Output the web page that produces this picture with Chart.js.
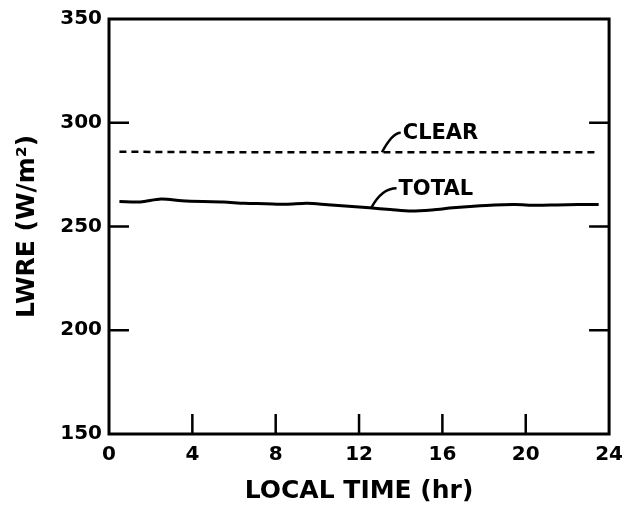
<!DOCTYPE html>
<html>
<head>
<meta charset="utf-8">
<script src="https://cdn.jsdelivr.net/npm/chart.js@4"></script>
<style>
  body { margin: 0; background: #fff; }
</style>
</head>
<body>
<canvas id="lwreChart" width="632" height="509"></canvas>
<script>
// local hour of each sample
const hours = [0.5, 1.5, 2.5, 3.5, 4.5, 5.5, 6.5, 7.5, 8.5, 9.5, 10.5, 11.5,
               12.5, 13.5, 14.5, 15.5, 16.5, 17.5, 18.5, 19.5, 20.5, 21.5, 22.5, 23.5];

// LWRE, W/m^2
const totalValues = [262.0, 261.8, 263.2, 262.4, 262.0, 261.8, 261.2, 261.0, 260.7, 261.2, 260.5, 259.8,
                     259.0, 258.2, 257.5, 258.0, 259.0, 259.8, 260.4, 260.6, 260.2, 260.4, 260.6, 260.6];
const clearValues = [286.0, 286.0, 285.9, 285.9, 285.8, 285.8, 285.8, 285.8, 285.8, 285.8, 285.8, 285.8,
                     285.8, 285.8, 285.8, 285.8, 285.8, 285.8, 285.8, 285.8, 285.8, 285.8, 285.8, 285.8];

const xTickValues = [0, 4, 8, 12, 16, 20, 24];
const yTickValues = [150, 200, 250, 300, 350];

const toPoints = vals => vals.map((v, i) => ({ x: hours[i], y: v }));

/*
 frame, inward tick marks and the two line callouts
*/
const callouts = [
    { text: "CLEAR", from: [13.1, 285.8], to: [13.6, 295.2], end: 14.0 },
    { text: "TOTAL", from: [12.6, 259.2], to: [13.1, 268.4], end: 13.8 }
];

const framePlugin = {
    id: "frame",
    afterDatasetsDraw(chart) {
        const { ctx, chartArea: a, scales: { x, y } } = chart;
        ctx.save();
        ctx.strokeStyle = "#000";
        ctx.lineWidth = 3;
        ctx.strokeRect(a.left, a.top, a.right - a.left, a.bottom - a.top);

        ctx.lineWidth = 2.5;
        ctx.beginPath();
        xTickValues.slice(1, -1).forEach(v => {
            const px = x.getPixelForValue(v);
            ctx.moveTo(px, a.bottom);
            ctx.lineTo(px, a.bottom - 20);
        });
        yTickValues.slice(1, -1).forEach(v => {
            const py = y.getPixelForValue(v);
            ctx.moveTo(a.left, py);
            ctx.lineTo(a.left + 20, py);
            ctx.moveTo(a.right, py);
            ctx.lineTo(a.right - 20, py);
        });
        ctx.stroke();

        ctx.lineWidth = 2.5;
        ctx.font = "bold 21px 'DejaVu Sans'";
        ctx.fillStyle = "#000";
        ctx.textBaseline = "middle";
        callouts.forEach(c => {
            const x0 = x.getPixelForValue(c.from[0]);
            const y0 = y.getPixelForValue(c.from[1]);
            const x1 = x.getPixelForValue(c.to[0]);
            const y1 = y.getPixelForValue(c.to[1]);
            const x2 = x.getPixelForValue(c.end);
            ctx.beginPath();
            ctx.moveTo(x0, y0);
            ctx.quadraticCurveTo(x1, y1, x2, y1);
            ctx.stroke();
            ctx.fillText(c.text, x2 + 2, y1 + 1);
        });
        ctx.restore();
    }
};

const ctx = document.getElementById("lwreChart").getContext("2d");

new Chart(ctx, {
    type: "line",
    data: {
        datasets: [{
            label: "TOTAL",
            data: toPoints(totalValues),
            borderColor: "#000",
            borderWidth: 3,
            pointRadius: 0,
            tension: 0.3
        }, {
            label: "CLEAR",
            data: toPoints(clearValues),
            borderColor: "#000",
            borderWidth: 2.5,
            borderDash: [7, 5],
            pointRadius: 0
        }]
    },
    options: {
        responsive: false,
        animation: false,
        layout: { padding: { top: 14, right: 22 } },
        plugins: {
            legend: { display: false },
            tooltip: { enabled: false }
        },
        scales: {
            x: {
                type: "linear",
                min: 0,
                max: 24,
                afterBuildTicks: s => { s.ticks = xTickValues.map(v => ({ value: v })); },
                afterFit: s => { s.height = 75; },
                grid: { display: false, drawTicks: false },
                border: { display: false },
                ticks: {
                    color: "#000",
                    padding: 9,
                    font: { family: "DejaVu Sans", size: 20, weight: "bold" }
                },
                title: {
                    display: true,
                    text: "LOCAL TIME (hr)",
                    color: "#000",
                    padding: { top: 0, bottom: 3 },
                    font: { family: "DejaVu Sans", size: 25, weight: "bold" }
                }
            },
            y: {
                min: 150,
                max: 350,
                afterBuildTicks: s => { s.ticks = yTickValues.map(v => ({ value: v })); },
                afterFit: s => { s.width = 109; },
                grid: { display: false, drawTicks: false },
                border: { display: false },
                ticks: {
                    color: "#000",
                    padding: 7,
                    font: { family: "DejaVu Sans", size: 20, weight: "bold" }
                },
                title: {
                    display: true,
                    text: "LWRE (W/m²)",
                    color: "#000",
                    padding: { top: 12, bottom: 0 },
                    font: { family: "DejaVu Sans", size: 25, weight: "bold" }
                }
            }
        }
    },
    plugins: [framePlugin]
});
</script>
</body>
</html>
